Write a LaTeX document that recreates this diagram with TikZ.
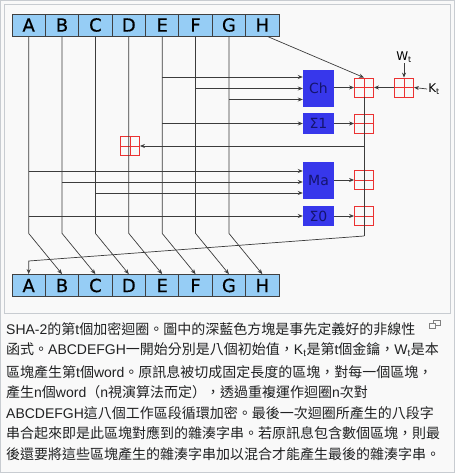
\documentclass[tikz,border=0pt]{standalone}
\usepackage{fontspec}
\setmainfont{Liberation Sans}
\newfontfamily\cjk{Noto Sans CJK TC}
\newfontfamily\dv{DejaVu Sans}
\newfontfamily\dvb[FakeBold=0.6]{DejaVu Sans}
\usetikzlibrary{arrows.meta}
\definecolor{bgc}{RGB}{249,249,249}
\definecolor{framec}{RGB}{200,204,209}
\definecolor{regfill}{RGB}{150,205,245}
\definecolor{bluebox}{RGB}{55,55,235}
\definecolor{navy}{RGB}{20,20,110}
\definecolor{addc}{RGB}{235,50,50}
\definecolor{linec}{RGB}{60,60,60}
\definecolor{capc}{RGB}{32,33,34}
\begin{document}
\begin{tikzpicture}[x=1pt,y=-1pt,
  reg/.style={draw=black!75,line width=0.8pt,fill=regfill,minimum width=33.375pt,minimum height=22pt,inner sep=0pt,font=\dvb\fontsize{18}{18}\selectfont},
  fbox/.style={fill=bluebox,minimum width=31pt,inner sep=0pt,text=navy,font=\dv\fontsize{14}{14}\selectfont},
  adder/.style={draw=addc,line width=0.8pt,minimum size=19pt,inner sep=0pt,
    path picture={\draw[addc,line width=0.8pt] (path picture bounding box.north) -- (path picture bounding box.south) (path picture bounding box.west) -- (path picture bounding box.east);}},
  ln/.style={draw=linec,line width=0.7pt},
  arr/.style={ln,-{Stealth[length=5pt,width=4pt]}},
  lbl/.style={font=\dv\fontsize{12}{12}\selectfont,inner sep=1pt},
  captext/.style={anchor=base west,inner sep=0pt,text=capc,font=\fontsize{14}{14}\selectfont}]
\useasboundingbox (0,0) rectangle (455,473);
\fill[bgc] (0,0) rectangle (455,473);
\draw[framec] (0.5,0.5) rectangle (454.5,472.5);
\draw[framec] (4.5,4.5) rectangle (450.5,313);
% registers
\foreach \L [count=\i] in {A,B,C,D,E,F,G,H}{
  \node[reg] (t\L) at ({12+33.375*(\i-0.5)},25) {\L};
  \node[reg] (b\L) at ({12+33.375*(\i-0.5)},285.5) {\L};
}
% function boxes
\node[fbox,minimum height=37pt] (Ch) at (318.5,88.5) {Ch};
\node[fbox,minimum height=21pt] (S1) at (318.5,123.5) {Σ1};
\node[fbox,minimum height=37pt] (Ma) at (318.5,180.5) {Ma};
\node[fbox,minimum height=20pt] (S0) at (318.5,216) {Σ0};
% adders
\node[adder] (ad1) at (364,87.5) {};
\node[adder] (ad2) at (364,123.5) {};
\node[adder] (ad3) at (364,180) {};
\node[adder] (ad4) at (364,216) {};
\node[adder] (adWK) at (404,87.5) {};
\node[adder] (adD) at (130,146) {};
% labels
\node[lbl] (wt) at (404,57) {W\textsubscript{t}};
\node[lbl] (kt) at (434,89) {K\textsubscript{t}};
% vertical register lines
\foreach \L/\N in {A/B,B/C,C/D,D/E,E/F,F/G,G/H}{
  \draw[arr] (t\L.south) -- ++(0,197) -- (b\N.north);
}
% inputs to functions
\draw[arr] (tE.south |- 0,77) -- (Ch.west |- 0,77);
\draw[arr] (tF.south |- 0,88.5) -- (Ch.west |- 0,88.5);
\draw[arr] (tG.south |- 0,99.5) -- (Ch.west |- 0,99.5);
\draw[arr] (tE.south |- S1.west) -- (S1.west);
\draw[arr] (tA.south |- 0,171) -- (Ma.west |- 0,171);
\draw[arr] (tB.south |- 0,182) -- (Ma.west |- 0,182);
\draw[arr] (tC.south |- 0,193) -- (Ma.west |- 0,193);
\draw[arr] (tA.south |- S0.west) -- (S0.west);
% function outputs to adders
\draw[arr] (Ch.east |- ad1.west) -- (ad1.west);
\draw[arr] (S1.east) -- (ad2.west);
\draw[arr] (Ma.east |- ad3.west) -- (ad3.west);
\draw[arr] (S0.east) -- (ad4.west);
\draw[arr] (adWK.west) -- (ad1.east);
\draw[arr] (wt.south) -- (adWK.north);
\draw[arr] (kt.west) -- (adWK.east);
\draw[arr] ([xshift=5pt]tH.south) -- (ad1.north);
% main sum line
\draw[ln] (ad1.south) -- (ad1.center |- 0,236);
\draw[arr] (ad1.center |- 0,236) -- (bA.north |- 0,261) -- (bA.north);
\draw[arr] (ad1.center |- adD.east) -- (adD.east);
% caption
\node[captext] (c1) at (6,334.5) {SHA-2{\cjk 的第}t{\cjk 個加密迴圈。圖中的深藍色方塊是事先定義好的非線性}};
\node[captext] (c2) at (6,354.5) {{\cjk 函式。}ABCDEFGH{\cjk 一開始分別是八個初始值，}K\textsubscript{t}{\cjk 是第}t{\cjk 個金鑰，}W\textsubscript{t}{\cjk 是本}};
\node[captext] (c3) at (6,377) {{\cjk 區塊產生第}t{\cjk 個}word{\cjk 。原訊息被切成固定長度的區塊，對每一個區塊，}};
\node[captext] (c4) at (6,397.5) {{\cjk 產生}n{\cjk 個}word{\cjk （}n{\cjk 視演算法而定），透過重複運作迴圈}n{\cjk 次對}};
\node[captext] (c5) at (6,418) {ABCDEFGH{\cjk 這八個工作區段循環加密。最後一次迴圈所產生的八段字}};
\node[captext] (c6) at (6,438.5) {{\cjk 串合起來即是此區塊對應到的雜湊字串。若原訊息包含數個區塊，則最}};
\node[captext] (c7) at (6,459) {{\cjk 後還要將這些區塊產生的雜湊字串加以混合才能產生最後的雜湊字串。}};
% enlarge icon
\draw[gray,line width=0.8pt] (433.5,320.5) rectangle (440.5,325.5);
\draw[gray,line width=0.8pt,fill=bgc] (429.5,323.5) rectangle (435.5,328.5);
\end{tikzpicture}
\end{document}
